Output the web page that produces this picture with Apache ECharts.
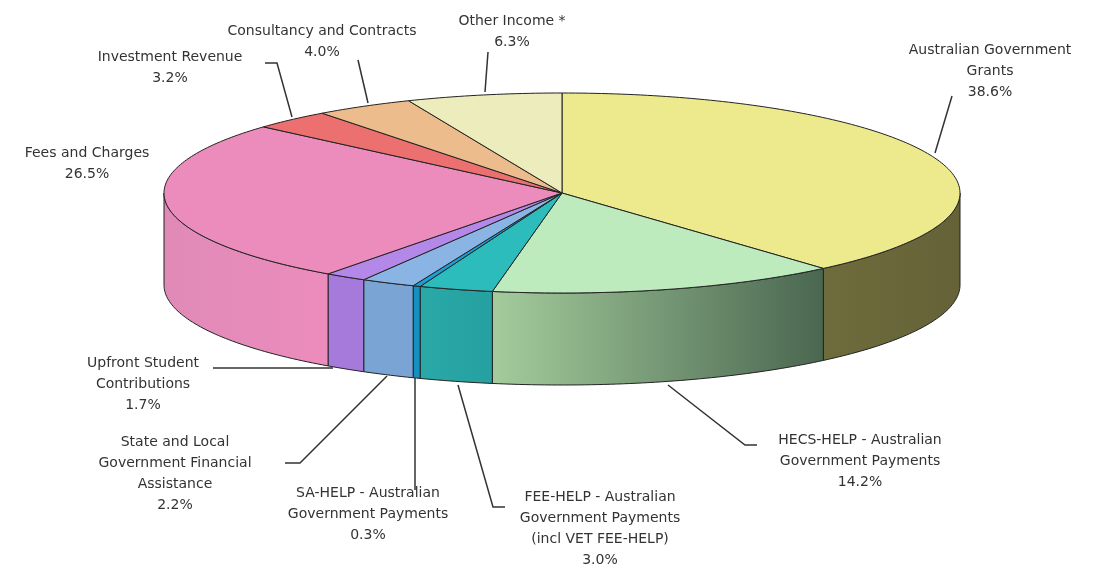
<!DOCTYPE html>
<html><head><meta charset="utf-8">
<script src="https://cdn.jsdelivr.net/npm/echarts@6/dist/echarts.min.js"></script>
<style>html,body{margin:0;padding:0;background:#fff}#c{width:1100px;height:571px}</style>
</head><body><div id="c"></div>
<script>
const categories = ['Australian Government Grants','HECS-HELP - Australian Government Payments','FEE-HELP - Australian Government Payments (incl VET FEE-HELP)','SA-HELP - Australian Government Payments','State and Local Government Financial Assistance','Upfront Student Contributions','Fees and Charges','Investment Revenue','Consultancy and Contracts','Other Income *'];
const values = [38.6,14.2,3.0,0.3,2.2,1.7,26.5,3.2,4.0,6.3];
const topColors = ['#ecea8c','#bdebbd','#2cbcbc','#1aa0d8','#8ab4e4','#b488e8','#ec8cbc','#ec7070','#ecbc8c','#ececbc'];
const sideColors = [['#6e6b3c','#656238'],['#a4cc9c','#4a6650'],['#2aa8a8','#26a0a0'],['#1590c0','#1590c0'],['#7aa4d4','#7aa4d4'],['#a67ada','#a67ada'],['#e08ab8','#ec8cbc'],['#d86464','#d86464'],['#dcac7c','#dcac7c'],['#dcdcac','#dcdcac']];

const cx=562, cy=193, rx=398, ry=100, depth=92;
const total = values.reduce((a,b)=>a+b,0);
function pt(t,dy){return [cx+rx*Math.sin(t), cy-ry*Math.cos(t)+(dy||0)];}
function renderItem(params, api){
  const i=params.dataIndex;
  let s=0; for(let k=0;k<i;k++) s+=values[k];
  const a0=s/total*2*Math.PI, a1=(s+values[i])/total*2*Math.PI;
  const children=[];
  const b0=Math.max(a0,Math.PI/2), b1=Math.min(a1,1.5*Math.PI);
  if(b1>b0){
    const up=[],dn=[];
    const n=Math.max(2,Math.ceil((b1-b0)*60));
    for(let j=0;j<=n;j++){const t=b0+(b1-b0)*j/n;up.push(pt(t,0));dn.push(pt(t,depth));}
    const xs=up.map(p=>p[0]);
    children.push({type:'polygon',shape:{points:up.concat(dn.reverse())},
      style:{fill:new echarts.graphic.LinearGradient(0,0,1,0,[{offset:0,color:sideColors[i][0]},{offset:1,color:sideColors[i][1]}]),stroke:'#222',lineWidth:1}});
  }
  const tp=[[cx,cy]];
  const n=Math.max(2,Math.ceil((a1-a0)*60));
  for(let j=0;j<=n;j++) tp.push(pt(a0+(a1-a0)*j/n,0));
  children.push({type:'polygon',z2:10,shape:{points:tp},style:{fill:topColors[i],stroke:'#222',lineWidth:1}});
  return {type:'group',children};
}
const labels=[
 {t:'Australian Government\nGrants\n38.6%',x:990,y:40,line:[[935,153],[952,96]]},
 {t:'HECS-HELP - Australian\nGovernment Payments\n14.2%',x:860,y:430,line:[[668,385],[745,445],[757,445]]},
 {t:'FEE-HELP - Australian\nGovernment Payments\n(incl VET FEE-HELP)\n3.0%',x:600,y:487,line:[[458,385],[493,507],[505,507]]},
 {t:'SA-HELP - Australian\nGovernment Payments\n0.3%',x:368,y:483,line:[[415,378],[415,490]]},
 {t:'State and Local\nGovernment Financial\nAssistance\n2.2%',x:175,y:432,line:[[387,376],[300,463],[285,463]]},
 {t:'Upfront Student\nContributions\n1.7%',x:143,y:353,line:[[333,368],[213,368]]},
 {t:'Fees and Charges\n26.5%',x:87,y:143,line:null},
 {t:'Investment Revenue\n3.2%',x:170,y:47,line:[[292,117],[277,63],[265,63]]},
 {t:'Consultancy and Contracts\n4.0%',x:322,y:21,line:[[368,103],[358,60]]},
 {t:'Other Income *\n6.3%',x:512,y:11,line:[[485,92],[488,52]]}
];
const graphic=[];
labels.forEach(l=>{
  graphic.push({type:'text',left:null,x:l.x,y:l.y,style:{text:l.t,fill:'#333',font:'14px "DejaVu Sans"',textAlign:'center',lineHeight:21}});
  if(l.line) graphic.push({type:'polyline',shape:{points:l.line},style:{stroke:'#333',lineWidth:1.5,fill:null}});
});
const chart=echarts.init(document.getElementById('c'));
chart.setOption({animation:false,
  series:[{type:'custom',coordinateSystem:'none',renderItem,data:values.map((v,i)=>({value:v,name:categories[i]}))}],
  graphic});
</script></body></html>
